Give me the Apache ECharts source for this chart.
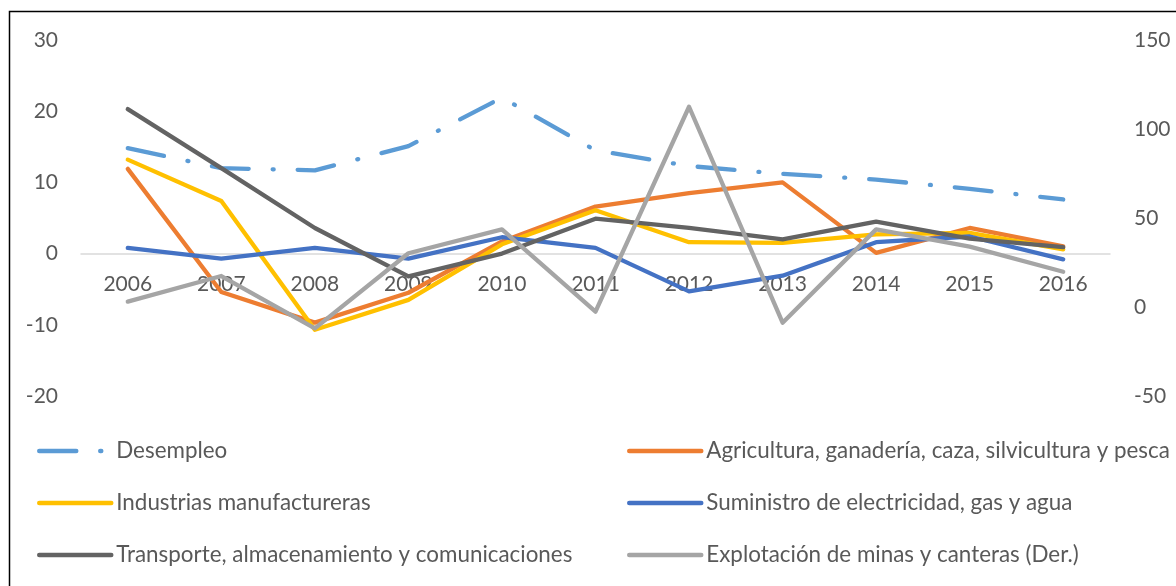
<!DOCTYPE html>
<html>
<head>
<meta charset="utf-8">
<script src="https://cdn.jsdelivr.net/npm/echarts@6/dist/echarts.min.js"></script>
<style>
  html, body { margin: 0; padding: 0; background: #fff; }
  #chart { width: 1176px; height: 586px; }
</style>
</head>
<body>
<div id="chart"></div>
<script>
const years = ["2006", "2007", "2008", "2009", "2010", "2011", "2012", "2013", "2014", "2015", "2016"];
const desempleo = [14.8, 12.0, 11.7, 15.1, 21.9, 14.5, 12.3, 11.2, 10.4, 9.1, 7.6];
const agricultura = [11.9, -5.4, -9.7, -5.5, 1.7, 6.6, 8.5, 10.0, 0.1, 3.6, 1.0];
const industrias = [13.2, 7.4, -10.7, -6.5, 1.3, 6.1, 1.6, 1.5, 2.7, 2.9, 0.6];
const suministro = [0.8, -0.7, 0.8, -0.7, 2.3, 0.8, -5.3, -3.1, 1.6, 2.4, -0.8];
const transporte = [20.3, 12.0, 3.6, -3.2, 0.0, 4.9, 3.6, 2.0, 4.5, 2.1, 0.9];
const explotacion = [3.0, 17.4, -12.0, 30.2, 43.6, -2.6, 112.5, -8.8, 43.6, 33.9, 19.8];

const FONT = "Lato";
const chart = echarts.init(document.getElementById("chart"));

function line(name, data, color, extra) {
  return Object.assign({
    name: name,
    type: "line",
    data: data,
    symbol: "none",
    lineStyle: { color: color, width: 4.3, cap: "round", join: "round" },
    itemStyle: { color: color }
  }, extra || {});
}

// grid is 356px tall from -20 to 30, so zero sits 142.4px above the bottom
const legendBase = {
  top: 440, orient: "vertical", itemGap: 30, padding: 0,
  itemWidth: 72, itemHeight: 14,
  itemStyle: { opacity: 0 },
  lineStyle: { width: 4.5 },
  textStyle: { fontFamily: FONT, fontSize: 22.4, color: "#595959" }
};

chart.setOption({
  animation: false,
  textStyle: { fontFamily: FONT },
  grid: { left: 81, right: 66, top: 40, bottom: 190, containLabel: false },
  graphic: [{
    type: "rect",
    shape: { x: 9.5, y: 11.5, width: 1200, height: 600 },
    style: { fill: "none", stroke: "#000", lineWidth: 1.5 },
    silent: true
  }],
  legend: [
    Object.assign({}, legendBase, {
      left: 37,
      data: ["Desempleo", "Industrias manufactureras", "Transporte, almacenamiento y comunicaciones"]
    }),
    Object.assign({}, legendBase, {
      left: 627,
      data: ["Agricultura, ganadería, caza, silvicultura y pesca", "Suministro de electricidad, gas y agua", "Explotación de minas y canteras (Der.)"]
    })
  ],
  xAxis: {
    type: "category",
    data: years,
    boundaryGap: true,
    offset: -142.4,
    axisLine: { onZero: false, lineStyle: { color: "#d9d9d9", width: 1.5 } },
    axisTick: { show: false },
    axisLabel: { color: "#595959", fontSize: 21, margin: 20 }
  },
  yAxis: [
    {
      type: "value", min: -20, max: 30, interval: 10,
      axisLine: { show: false }, axisTick: { show: false },
      splitLine: { show: false },
      axisLabel: { color: "#595959", fontSize: 21, margin: 23 }
    },
    {
      type: "value", min: -50, max: 150, interval: 50,
      axisLine: { show: false }, axisTick: { show: false },
      splitLine: { show: false },
      axisLabel: { color: "#595959", fontSize: 21, margin: 24 }
    }
  ],
  series: [
    line("Desempleo", desempleo, "#5B9BD5", {
      lineStyle: { color: "#5B9BD5", width: 4.3, cap: "round", join: "round", type: [37, 24, 1, 24] }
    }),
    line("Agricultura, ganadería, caza, silvicultura y pesca", agricultura, "#ED7D31"),
    line("Industrias manufactureras", industrias, "#FFC000"),
    line("Suministro de electricidad, gas y agua", suministro, "#4472C4"),
    line("Transporte, almacenamiento y comunicaciones", transporte, "#636363"),
    line("Explotación de minas y canteras (Der.)", explotacion, "#A5A5A5", { yAxisIndex: 1 })
  ]
});
</script>
</body>
</html>
